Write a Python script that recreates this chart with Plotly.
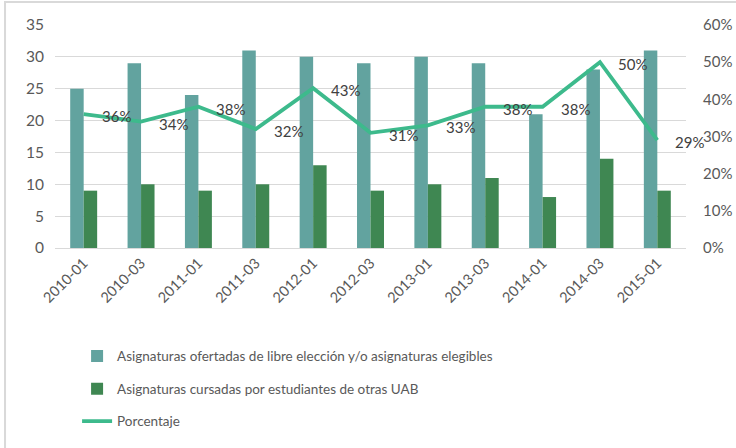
import plotly.graph_objects as go

# Semesters and counts of subjects
periodos = ["2010-01", "2010-03", "2011-01", "2011-03", "2012-01", "2012-03",
            "2013-01", "2013-03", "2014-01", "2014-03", "2015-01"]
ofertadas = [25, 29, 24, 31, 30, 29, 30, 29, 21, 28, 31]
cursadas = [9, 10, 9, 10, 13, 9, 10, 11, 8, 14, 9]
porcentaje = [36, 34, 38, 32, 43, 31, 33, 38, 38, 50, 29]  # in %

FONT = "Lato, Liberation Sans, sans-serif"
GRIS = "#595959"

fig = go.Figure()

fig.add_trace(go.Bar(
    x=periodos, y=ofertadas,
    name="Asignaturas ofertadas de libre elección y/o asignaturas elegibles",
    marker=dict(color="#62A39F", line=dict(width=0)),
    legendgroup="a",
))
fig.add_trace(go.Bar(
    x=periodos, y=cursadas,
    name="Asignaturas cursadas por estudiantes de otras UAB",
    marker=dict(color="#3F8752", line=dict(width=0)),
    legendgroup="b",
))
fig.add_trace(go.Scatter(
    x=periodos, y=[p / 100 for p in porcentaje],
    name="Porcentaje", mode="lines",
    line=dict(color="#3DBA8C", width=3.8),
    yaxis="y2", legendgroup="c",
))

# data labels to the right of each line point
for per, p in zip(periodos, porcentaje):
    fig.add_annotation(
        x=per, y=p / 100, yref="y2", text=f"{p}%", showarrow=False,
        xanchor="left", yanchor="middle", xshift=16, yshift=-2,
        font=dict(family=FONT, size=15, color="#404040"),
    )

# light outer frame of the chart area
fig.add_shape(type="rect", xref="paper", yref="paper",
              x0=-0.0792, x1=1.3, y0=-1.5, y1=1.1027,
              line=dict(color="#D9D9D9", width=2), layer="below")

fig.update_layout(
    width=736, height=448,
    margin=dict(l=55, r=50, t=25, b=199),
    paper_bgcolor="white", plot_bgcolor="white",
    barmode="group", bargap=0.53, bargroupgap=0,
    font=dict(family=FONT, size=15, color=GRIS),
    xaxis=dict(
        type="category", automargin=False, range=[-0.5, len(periodos) - 0.5],
        tickangle=-45, showgrid=False, showline=True,
        linecolor="#D9D9D9", linewidth=1, ticks="",
        tickfont=dict(family=FONT, size=14.5, color=GRIS),
    ),
    yaxis=dict(
        range=[0, 35], dtick=5, showgrid=True, gridcolor="#D9D9D9",
        gridwidth=1, zeroline=False, showline=False, ticks="",
        ticklabelstandoff=10, automargin=False,
        tickfont=dict(family=FONT, size=15.5, color=GRIS),
    ),
    yaxis2=dict(
        overlaying="y", side="right", range=[0, 0.6], dtick=0.1,
        tickformat=".0%", showgrid=False, zeroline=False, ticks="",
        ticklabelstandoff=16, automargin=False,
        tickfont=dict(family=FONT, size=15, color=GRIS),
    ),
    legend=dict(
        orientation="v", x=0.035, y=-0.41, xanchor="left", yanchor="top",
        traceorder="grouped", tracegroupgap=12,
        font=dict(family=FONT, size=13.5, color=GRIS),
        bgcolor="rgba(0,0,0,0)",
    ),
    showlegend=True,
)

fig.write_html("out.html")
